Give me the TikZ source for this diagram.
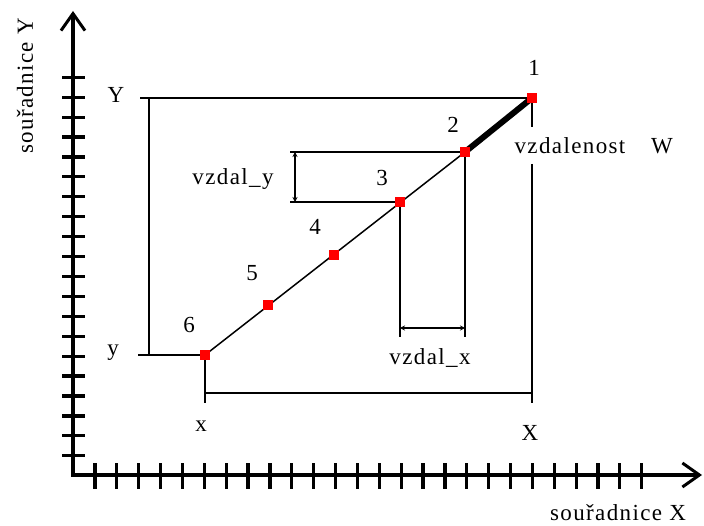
\documentclass[tikz,border=0pt]{standalone}
\usepackage{fontspec}
\setmainfont[LetterSpace=6]{Liberation Serif}
\usetikzlibrary{arrows.meta,backgrounds}
\begin{document}
\begin{tikzpicture}[x=1pt,y=-1pt,
  lbl/.style={font=\fontsize{23}{23}\selectfont, inner sep=0pt},
  axis/.style={line width=3.2pt},
  thinln/.style={line width=1.5pt},
  pt/.style={fill=red, minimum size=10pt, inner sep=0pt, outer sep=0pt},
  dim/.style={line width=1.5pt, {Stealth[length=5pt,width=5pt]}-{Stealth[length=5pt,width=5pt]}},
  axbarb/.tip={Straight Barb[length=17pt,width=24pt,line width=3pt]}]
\useasboundingbox (0,0) rectangle (704,526);
% axes
\coordinate (O) at (73,475);
\coordinate (ytip) at (73,11);
\coordinate (xtip) at (702,475);
\draw[axis,axbarb-axbarb] (ytip) -- (O) -- (xtip);
\foreach \k in {0,...,19} \draw[axis] (62,77.3+19.92*\k) -- (85,77.3+19.92*\k);
\foreach \k in {0,...,25} \draw[axis] (95+21.87*\k,463) -- (95+21.87*\k,489);
% points
\node[pt] (p1) at (532,98) {};
\node[pt] (p2) at (465,152) {};
\node[pt] (p3) at (400,202) {};
\node[pt] (p4) at (334,255) {};
\node[pt] (p5) at (268,305) {};
\node[pt] (p6) at (205,355) {};
% helper coordinates
\coordinate (Yl) at (140,98);
\coordinate (Yv) at (149,98);
\coordinate (yv) at (149,355);
\coordinate (yl) at (138,355);
\coordinate (xb) at (205,403);
\coordinate (hx1) at (205,393);
\coordinate (hx2) at (532,393);
\coordinate (Xb) at (532,403);
\coordinate (w1) at (532,127);
\coordinate (w2) at (532,164);
\coordinate (d3) at (400,337);
\coordinate (d2) at (465,337);
\coordinate (ax3) at (400,328);
\coordinate (ax2) at (465,328);
\coordinate (hy2) at (290,152);
\coordinate (hy3) at (290,202);
\coordinate (ay2) at (295,152);
\coordinate (ay3) at (295,202);
\begin{pgfonlayer}{background}
\draw[thinln] (p6.center) -- (p2.center);
\draw[line width=6pt] (p2.center) -- (p1.center);
\draw[thinln] (Yl) -- (p1.center);
\draw[thinln] (Yv) -- (yv);
\draw[thinln] (yl) -- (p6.center);
\draw[thinln] (p6.center) -- (xb);
\draw[thinln] (hx1) -- (hx2);
\draw[thinln] (p1.center) -- (w1);
\draw[thinln] (w2) -- (Xb);
\draw[thinln] (p3.center) -- (d3);
\draw[thinln] (p2.center) -- (d2);
\draw[thinln] (hy2) -- (p2.center);
\draw[thinln] (hy3) -- (p3.center);
\end{pgfonlayer}
\draw[dim] (ax3) -- (ax2);
\draw[dim] (ay2) -- (ay3);
% labels
\node[lbl] (n1) at (534,68) {1};
\node[lbl] (n2) at (453,125) {2};
\node[lbl] (n3) at (382,178) {3};
\node[lbl] (n4) at (315,227) {4};
\node[lbl] (n5) at (252,273) {5};
\node[lbl] (n6) at (189,325) {6};
\node[lbl] (lY) at (116,95) {Y};
\node[lbl] (ly) at (113,353) {y};
\node[lbl] (lx) at (201,426) {x};
\node[lbl] (lX) at (530,433) {X};
\node[lbl] (lvx) at (430,358) {vzdal\_x};
\node[lbl] (lvy) at (233,179) {vzdal\_y};
\node[lbl] (lvz) at (570,146) {vzdalenost};
\node[lbl] (lW) at (662,146) {W};
\node[lbl] (sX) at (618,513) {souřadnice X};
\node[lbl,rotate=90] (sY) at (25,86) {souřadnice Y};
\end{tikzpicture}
\end{document}
